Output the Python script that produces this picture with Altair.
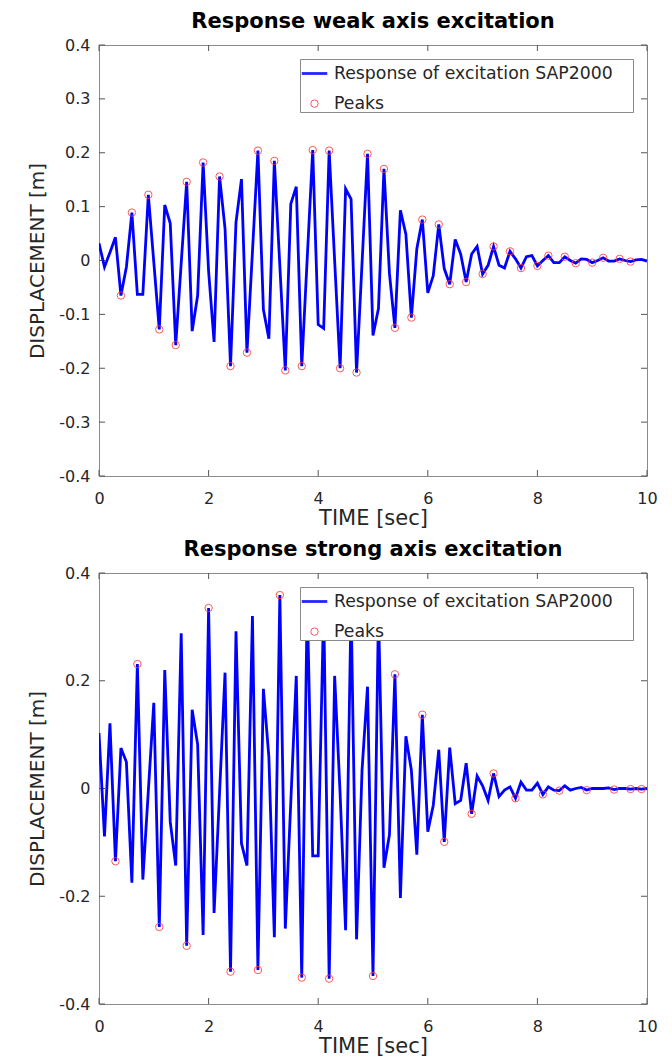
import altair as alt
import pandas as pd

TIME = [0.0, 0.1, 0.2, 0.3, 0.4, 0.5, 0.6, 0.7, 0.8, 0.9,
        1.0, 1.1, 1.2, 1.3, 1.4, 1.5, 1.6, 1.7, 1.8, 1.9,
        2.0, 2.1, 2.2, 2.3, 2.4, 2.5, 2.6, 2.7, 2.8, 2.9,
        3.0, 3.1, 3.2, 3.3, 3.4, 3.5, 3.6, 3.7, 3.8, 3.9,
        4.0, 4.1, 4.2, 4.3, 4.4, 4.5, 4.6, 4.7, 4.8, 4.9,
        5.0, 5.1, 5.2, 5.3, 5.4, 5.5, 5.6, 5.7, 5.8, 5.9,
        6.0, 6.1, 6.2, 6.3, 6.4, 6.5, 6.6, 6.7, 6.8, 6.9,
        7.0, 7.1, 7.2, 7.3, 7.4, 7.5, 7.6, 7.7, 7.8, 7.9,
        8.0, 8.1, 8.2, 8.3, 8.4, 8.5, 8.6, 8.7, 8.8, 8.9,
        9.0, 9.1, 9.2, 9.3, 9.4, 9.5, 9.6, 9.7, 9.8, 9.9, 10.0]

WEAK = [0.032, -0.012, 0.015, 0.043, -0.065, -0.012, 0.089, -0.063, -0.063, 0.122,
        -0.003, -0.128, 0.103, 0.069, -0.157, -0.005, 0.146, -0.131, -0.065, 0.182,
        -0.020, -0.151, 0.156, 0.059, -0.196, 0.071, 0.151, -0.171, 0.016, 0.204,
        -0.091, -0.145, 0.185, -0.010, -0.204, 0.105, 0.137, -0.196, 0.005, 0.205,
        -0.119, -0.126, 0.204, 0.000, -0.200, 0.133, 0.114, -0.208, -0.005, 0.198,
        -0.139, -0.089, 0.170, -0.024, -0.125, 0.093, 0.049, -0.106, 0.022, 0.076,
        -0.060, -0.028, 0.067, -0.015, -0.044, 0.039, 0.012, -0.040, 0.012, 0.026,
        -0.025, -0.009, 0.026, -0.009, -0.014, 0.017, 0.003, -0.014, 0.007, 0.009,
        -0.010, 0.000, 0.009, -0.004, -0.004, 0.007, 0.000, -0.005, 0.003, 0.002,
        -0.004, 0.000, 0.005, -0.001, -0.001, 0.003, 0.000, -0.002, 0.001, 0.002, -0.001]

STRONG = [0.103, -0.089, 0.121, -0.135, 0.075, 0.049, -0.175, 0.231, -0.169, -0.005,
          0.159, -0.257, 0.220, -0.062, -0.143, 0.288, -0.292, 0.146, 0.082, -0.272,
          0.335, -0.231, -0.008, 0.215, -0.340, 0.292, -0.102, -0.143, 0.320, -0.337,
          0.185, 0.058, -0.276, 0.359, -0.260, -0.025, 0.209, -0.351, 0.350, -0.125,
          -0.125, 0.340, -0.353, 0.209, -0.010, -0.263, 0.340, -0.280, 0.034, 0.189,
          -0.348, 0.330, -0.147, -0.086, 0.212, -0.203, 0.097, 0.034, -0.123, 0.137,
          -0.080, -0.031, 0.072, -0.099, 0.076, -0.028, -0.022, 0.047, -0.047, 0.023,
          0.005, -0.022, 0.028, -0.015, -0.003, 0.003, -0.018, 0.012, -0.003, -0.003,
          0.010, -0.011, 0.003, -0.003, -0.004, 0.005, -0.003, 0.000, 0.002, -0.003,
          0.000, 0.000, 0.000, 0.001, -0.002, 0.000, 0.000, -0.001, 0.000, -0.001, 0.000]

WEAK_PEAK_T = [0.4, 0.6, 0.9, 1.1, 1.4, 1.6, 1.9, 2.2, 2.4, 2.7, 2.9, 3.2, 3.4, 3.7,
               3.9, 4.2, 4.4, 4.7, 4.9, 5.2, 5.4, 5.7, 5.9, 6.2, 6.4, 6.7, 7.0, 7.2,
               7.5, 7.7, 8.0, 8.2, 8.5, 8.7, 9.0, 9.2, 9.5, 9.7]
STRONG_PEAK_T = [0.3, 0.7, 1.1, 1.6, 2.0, 2.4, 2.9, 3.3, 3.7, 4.2, 5.0, 5.4, 5.9,
                 6.3, 6.8, 7.2, 7.6, 8.1, 8.4, 8.9, 9.4, 9.7, 9.9]

X_TICKS = [0, 2, 4, 6, 8, 10]
WEAK_Y_TICKS = [-0.4, -0.3, -0.2, -0.1, 0.0, 0.1, 0.2, 0.3, 0.4]
STRONG_Y_TICKS = [-0.4, -0.2, 0.0, 0.2, 0.4]

LINE_NAME = "Response of excitation SAP2000"
PEAK_NAME = "Peaks"
TITLES = ["Response weak axis excitation", "Response strong axis excitation"]

W, H = 548, 431
FONT = "DejaVu Sans"
TXT = "#262626"
FRAME = "#8a8a8a"
TICK_LEN = 6

Y_LABEL = "replace(format(datum.value, '.1~f'), '\u2212', '-')"


def xenc(field="t"):
    return alt.X(
        f"{field}:Q",
        scale=alt.Scale(domain=[0, 10], nice=False, zero=False),
        axis=alt.Axis(values=X_TICKS, title="TIME [sec]", ticks=False, domain=False,
                      grid=False, labelFontSize=16, labelFont=FONT, labelColor=TXT,
                      labelPadding=14, labelFlush=False, titleFontSize=21, titleFont=FONT,
                      titleFontWeight="normal", titleColor=TXT, titlePadding=1,
                      format="d"),
    )


def yenc(yticks, field="d"):
    return alt.Y(
        f"{field}:Q",
        scale=alt.Scale(domain=[-0.4, 0.4], nice=False, zero=False),
        axis=alt.Axis(values=yticks, title="DISPLACEMENT [m]", ticks=False, domain=False,
                      grid=False, labelFontSize=16, labelFont=FONT, labelColor=TXT,
                      labelPadding=9, labelExpr=Y_LABEL, labelFlush=False,
                      titleFontSize=20, titleFont=FONT, titleFontWeight="normal",
                      titleColor=TXT, titlePadding=11),
    )


def panel(values, peak_t, yticks, title):
    lookup = dict(zip(TIME, values))
    df = pd.DataFrame({"t": TIME, "d": values, "s": LINE_NAME})
    pk = pd.DataFrame({"t": peak_t, "d": [lookup[t] for t in peak_t], "s": PEAK_NAME})

    legend = alt.Legend(title="\u2003", titleOrient="right", titlePadding=20,
                        titleFontSize=17, titleColor="white",
                        orient="top-right", offset=14, fillColor="white",
                        strokeColor=FRAME, padding=0, labelFont=FONT, labelFontSize=17.3,
                        labelColor=TXT, labelLimit=500, rowPadding=12,
                        symbolOffset=0, labelOffset=5)
    dom = [LINE_NAME, PEAK_NAME]
    color = alt.Color("s:N", scale=alt.Scale(domain=dom, range=["#0000ff", "#ff3b3b"]),
                      legend=legend)
    shape = alt.Shape("s:N", scale=alt.Scale(domain=dom, range=["stroke", "circle"]),
                      legend=legend)
    size = alt.Size("s:N", scale=alt.Scale(domain=dom, range=[650, 55]), legend=legend)
    sw = alt.StrokeWidth("s:N", scale=alt.Scale(domain=dom, range=[2.8, 1.0]),
                         legend=legend)

    line = alt.Chart(df).mark_line(clip=True).encode(
        x=xenc(), y=yenc(yticks), color=color, strokeWidth=sw)
    pts = alt.Chart(pk).mark_point(filled=False, opacity=0.85).encode(
        x=xenc(), y=yenc(yticks), color=color, shape=shape, size=size, strokeWidth=sw)

    xt = pd.DataFrame({"t": X_TICKS})
    yt = pd.DataFrame({"d": yticks})
    rule = dict(color="#555555", strokeWidth=1)
    xb = alt.Chart(xt).mark_rule(**rule).encode(x=xenc(), y=alt.value(H), y2=alt.value(H - TICK_LEN))
    xtop = alt.Chart(xt).mark_rule(**rule).encode(x=xenc(), y=alt.value(0), y2=alt.value(TICK_LEN))
    yl = alt.Chart(yt).mark_rule(**rule).encode(y=yenc(yticks), x=alt.value(0), x2=alt.value(TICK_LEN))
    yr = alt.Chart(yt).mark_rule(**rule).encode(y=yenc(yticks), x=alt.value(W), x2=alt.value(W - TICK_LEN))

    return alt.layer(xb, xtop, yl, yr, line, pts).properties(
        width=W, height=H,
        title=alt.TitleParams(title, fontSize=21, font=FONT, fontWeight="bold",
                              color="black", anchor="middle", offset=5),
    )


top = panel(WEAK, WEAK_PEAK_T, WEAK_Y_TICKS, TITLES[0])
bottom = panel(STRONG, STRONG_PEAK_T, STRONG_Y_TICKS, TITLES[1])

chart = alt.vconcat(top, bottom, spacing=9).resolve_scale(
    color="independent", shape="independent", size="independent", strokeWidth="independent"
).resolve_legend(
    color="independent", shape="independent", size="independent", strokeWidth="independent"
).properties(
    padding={"left": 27, "top": 10, "right": 10, "bottom": 2},
    background="white",
).configure_view(stroke=FRAME, strokeWidth=1)

chart.save("out.html", embed_options={"renderer": "svg", "actions": False})
